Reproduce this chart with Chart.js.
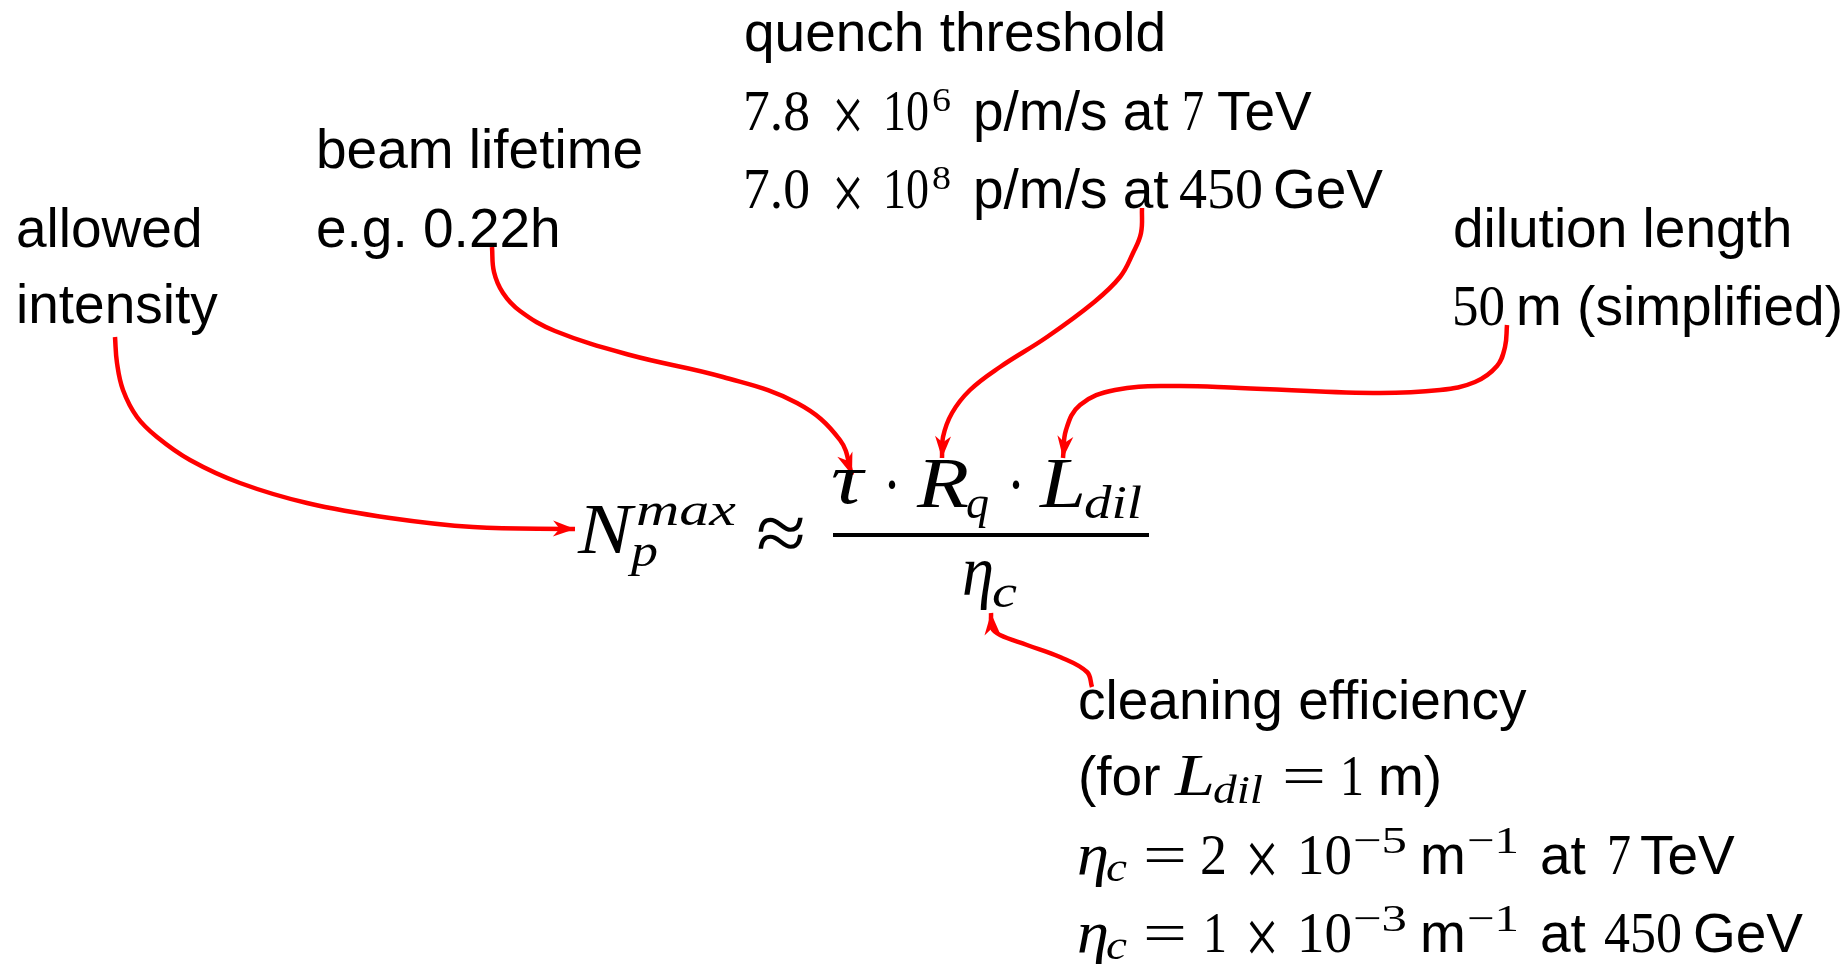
<!DOCTYPE html>
<html>
<head>
<meta charset="utf-8">
<script src="https://cdn.jsdelivr.net/npm/chart.js@4/dist/chart.umd.min.js"></script>
<style>
  html, body { margin: 0; padding: 0; background: #fff; }
  canvas { display: block; }
</style>
</head>
<body>
<canvas id="diagram" width="1848" height="964"></canvas>
<script>
// arrow paths, in picture pixels (y grows downwards)
const allowedArrow = [[115,337],[117,363],[123,390],[137,417],[157,437],[190,460],[240,483],[307,503],[390,518],[473,527],[575,529]];
const lifetimeArrow = [[492,247],[494,272],[503,293],[520,311],[555,331],[630,355],[723,377],[797,403],[840,440],[852,475]];
const quenchArrow = [[1142,208],[1141,233],[1133,253],[1120,277],[1093,303],[1047,337],[1000,367],[970,390],[952,413],[943,437],[942,458]];
const dilutionArrow = [[1507,325],[1505,347],[1497,366],[1475,382],[1440,390],[1373,393],[1240,388],[1173,386],[1115,390],[1080,405],[1066,430],[1063,458]];
const cleaningArrow = [[1092,687],[1087,672],[1060,657],[1027,645],[1000,635],[992,628],[991,613]];
const fractionBar = [[833,535],[1149,535]];

const SANS = "'Liberation Sans', Arial, sans-serif";
const SERIF = "'Liberation Serif', 'Times New Roman', serif";

// text pieces: [text, kind (s sans / r roman / i italic), size, x, baseline, width]
const textPieces = [
  ['allowed', 's', 55, 16, 247],
  ['intensity', 's', 55, 16, 323],

  ['beam lifetime', 's', 55, 316, 168],
  ['e.g. 0.22h', 's', 55, 316, 247],

  ['quench threshold', 's', 55, 744, 51],
  ['7.8', 'r', 58, 743, 130, 67],
  ['×', 'r', 80, 832, 142, 32],
  ['10', 'r', 58, 883, 130, 46],
  ['6', 'r', 33, 932, 111, 19],
  ['p/m/s at', 's', 55, 973, 130],
  ['7', 'r', 58, 1182, 130, 22],
  ['TeV', 's', 55, 1217, 130],
  ['7.0', 'r', 58, 743, 208, 67],
  ['×', 'r', 80, 832, 220, 32],
  ['10', 'r', 58, 883, 208, 46],
  ['8', 'r', 33, 932, 189, 19],
  ['p/m/s at', 's', 55, 973, 208],
  ['450', 'r', 58, 1179, 208, 84],
  ['GeV', 's', 55, 1273, 208],

  ['dilution length', 's', 55, 1453, 247],
  ['50', 'r', 58, 1452, 325, 53],
  ['m (simplified)', 's', 55, 1516, 325],

  ['N', 'i', 72, 578, 553, 54],
  ['max', 'i', 46, 636, 525, 100],
  ['p', 'i', 46, 631, 566, 27],
  ['≈', 'r', 84, 756, 561, 50],
  ['τ', 'i', 72, 831, 503, 32],
  ['·', 'r', 72, 883, 509, 18],
  ['R', 'i', 72, 917, 507, 52],
  ['q', 'i', 46, 966, 518, 23],
  ['·', 'r', 72, 1007, 509, 18],
  ['L', 'i', 72, 1040, 507, 46],
  ['dil', 'i', 46, 1084, 518, 58],
  ['η', 'i', 72, 962, 595, 32],
  ['c', 'i', 46, 992, 607, 25],

  ['cleaning efficiency', 's', 55, 1078, 719],
  ['(for', 's', 55, 1078, 795],
  ['L', 'i', 60, 1175, 795, 40],
  ['dil', 'i', 40, 1213, 803, 50],
  ['=', 'r', 58, 1282, 795, 44],
  ['1', 'r', 58, 1340, 795, 24],
  ['m)', 's', 55, 1378, 795],

  ['η', 'i', 60, 1077, 874, 32],
  ['c', 'i', 40, 1106, 881, 21],
  ['=', 'r', 58, 1143, 874, 44],
  ['2', 'r', 58, 1200, 874, 27],
  ['×', 'r', 80, 1245, 886, 34],
  ['10', 'r', 58, 1297, 874, 55],
  ['−5', 'r', 38, 1353, 853, 54],
  ['m', 's', 55, 1420, 874],
  ['−1', 'r', 38, 1467, 853, 52],
  ['at', 's', 55, 1540, 874],
  ['7', 'r', 58, 1607, 874, 24],
  ['TeV', 's', 55, 1640, 874],

  ['η', 'i', 60, 1077, 952, 32],
  ['c', 'i', 40, 1106, 959, 21],
  ['=', 'r', 58, 1143, 952, 44],
  ['1', 'r', 58, 1203, 952, 24],
  ['×', 'r', 80, 1245, 964, 34],
  ['10', 'r', 58, 1297, 952, 55],
  ['−3', 'r', 38, 1353, 931, 54],
  ['m', 's', 55, 1420, 952],
  ['−1', 'r', 38, 1467, 931, 52],
  ['at', 's', 55, 1540, 952],
  ['450', 'r', 58, 1604, 952, 78],
  ['GeV', 's', 55, 1693, 952]
];

const toPoints = pts => pts.map(([x, y]) => ({ x, y }));

const arrowDataset = pts => ({
  data: toPoints(pts),
  showLine: true,
  borderColor: '#ff0000',
  borderWidth: 4.5,
  pointRadius: 0,
  tension: 0.4,
  fill: false,
  arrow: true
});

// arrowheads and all the text
const diagramPlugin = {
  id: 'diagram',
  afterDatasetsDraw(chart) {
    const { ctx } = chart;
    const sx = chart.scales.x, sy = chart.scales.y;

    chart.data.datasets.forEach((ds, i) => {
      if (!ds.arrow) return;
      const pts = chart.getDatasetMeta(i).data;
      const end = pts[pts.length - 1];
      const prev = pts[pts.length - 2];
      const ang = Math.atan2(end.y - prev.y, end.x - prev.x);
      const len = 22, half = 8;
      ctx.save();
      ctx.translate(end.x, end.y);
      ctx.rotate(ang);
      ctx.fillStyle = '#ff0000';
      ctx.beginPath();
      ctx.moveTo(0, 0);
      ctx.lineTo(-len, -half);
      ctx.lineTo(-len * 0.7, 0);
      ctx.lineTo(-len, half);
      ctx.closePath();
      ctx.fill();
      ctx.restore();
    });

    ctx.save();
    ctx.fillStyle = '#000';
    ctx.textBaseline = 'alphabetic';
    ctx.textAlign = 'left';
    textPieces.forEach(([text, kind, size, px, py, w]) => {
      const family = kind === 's' ? SANS : SERIF;
      ctx.font = (kind === 'i' ? 'italic ' : '') + size + 'px ' + family;
      const natural = ctx.measureText(text).width;
      ctx.save();
      ctx.translate(sx.getPixelForValue(px), sy.getPixelForValue(py));
      if (w) ctx.scale(w / natural, 1);
      ctx.fillText(text, 0, 0);
      ctx.restore();
    });
    ctx.restore();
  }
};

new Chart(document.getElementById('diagram'), {
  type: 'scatter',
  data: {
    datasets: [
      arrowDataset(allowedArrow),
      arrowDataset(lifetimeArrow),
      arrowDataset(quenchArrow),
      arrowDataset(dilutionArrow),
      arrowDataset(cleaningArrow),
      {
        data: toPoints(fractionBar),
        showLine: true,
        borderColor: '#000',
        borderWidth: 4,
        pointRadius: 0,
        fill: false
      }
    ]
  },
  options: {
    responsive: false,
    animation: false,
    events: [],
    layout: { padding: 0 },
    plugins: {
      legend: { display: false },
      tooltip: { enabled: false }
    },
    scales: {
      x: { type: 'linear', min: 0, max: 1848, display: false },
      y: { type: 'linear', min: 0, max: 964, reverse: true, display: false }
    }
  },
  plugins: [diagramPlugin]
});
</script>
</body>
</html>
